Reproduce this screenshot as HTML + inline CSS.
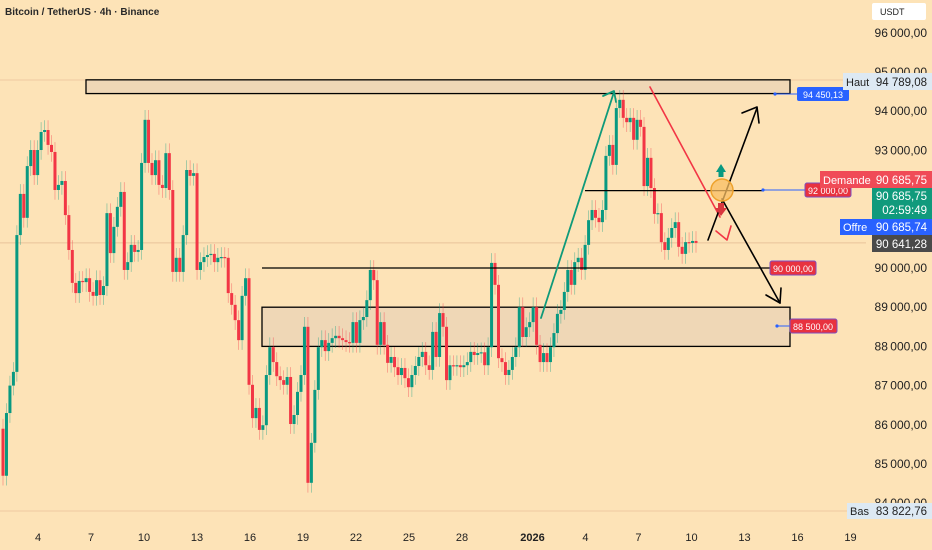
<!DOCTYPE html>
<html><head><meta charset="utf-8"><style>
html,body{margin:0;padding:0;background:#fde3b7;}
body{width:932px;height:550px;overflow:hidden;position:relative;font-family:"Liberation Sans",sans-serif;}
svg{position:absolute;left:0;top:0;}
</style></head><body>
<svg id="chart" width="932" height="550">
<rect x="0" y="0" width="932" height="550" fill="#fde3b7"/>
<text x="5" y="15" font-size="10" font-weight="bold" fill="#2a2a2a">Bitcoin / TetherUS · 4h · Binance</text>
<g><rect x="872" y="3" width="54" height="17" rx="2" fill="#ffffff"/><text x="880" y="15" font-size="9" fill="#222">USDT</text></g>
<g id="grid"></g>
<g id="overlay-back"></g>
<g id="candles"></g>
<g id="overlay"></g>
<g id="yaxis"></g>
<g id="xaxis"></g>
</svg>
<script>
// ---- data ----
const firstOpen = 85.9;
const closes = [84.7,86.3,87.0,87.35,90.84,91.89,91.28,92.60,93.01,92.37,93.01,93.47,93.52,93.14,92.96,91.99,92.12,92.22,91.35,90.46,89.62,89.36,89.67,89.64,89.74,89.39,89.29,89.69,89.31,89.54,91.40,90.38,91.05,91.56,91.94,89.95,90.15,90.59,90.41,90.46,92.68,93.78,92.68,92.37,92.75,92.12,92.04,92.93,91.99,89.90,90.26,89.90,90.84,92.50,92.35,92.42,89.95,90.15,90.28,90.33,90.36,90.15,90.26,90.28,90.26,89.36,89.06,88.67,88.16,89.29,89.74,87.02,86.17,86.43,85.87,85.99,87.27,87.98,87.60,87.24,87.14,87.02,87.22,86.02,86.25,86.84,87.27,88.50,84.52,85.54,86.89,87.98,88.16,87.88,88.09,88.21,88.27,88.21,88.16,88.11,88.09,88.62,88.09,88.67,88.75,89.18,89.95,89.69,88.04,88.62,88.04,87.58,87.73,87.47,87.27,87.45,87.19,86.96,87.27,87.50,87.73,87.86,87.52,87.40,88.37,87.73,88.85,88.50,87.14,87.52,87.50,87.52,87.47,87.52,87.60,87.86,87.78,87.83,87.85,87.52,87.98,90.13,89.57,87.70,87.60,87.27,87.40,87.73,87.98,89.00,88.24,88.49,88.62,89.00,88.04,87.60,87.83,87.60,87.98,88.34,88.83,88.93,89.39,89.95,89.57,90.15,90.26,89.95,90.59,91.22,91.48,91.28,91.17,91.48,92.86,93.14,92.63,94.08,94.29,93.83,93.72,93.83,93.27,93.78,93.60,92.09,92.81,92.04,91.38,91.40,90.66,90.46,90.77,91.02,91.17,90.54,90.36,90.66,90.64,90.69,90.64];
const priceTicks = [96,95,94,93,92,91,90,89,88,87,86,85,84];
const dateLabels = ["4","7","10","13","16","19","22","25","28","2026","4","7","10","13","16","19"];
const dateSlots = [0,1,2,3,4,5,6,7,8,9.33,10.33,11.33,12.33,13.33,14.33,15.33];
const levels = [92.0,90.0];
const zoneTop = [94.8,94.45];
const zoneBottom = [89.0,88.0];

// ---- axes ----
const NS="http://www.w3.org/2000/svg";
function yOf(p){return 268-(p-90)*39.2;}
const x0=3, x1=696;
function xOf(i){return x0+i*(x1-x0)/(closes.length-1);}
function xDate(s){return 38+s*53;}
function mk(tag,attrs,parent){const e=document.createElementNS(NS,tag);for(const k in attrs)e.setAttribute(k,attrs[k]);parent.appendChild(e);return e;}
function fmt(p){const v=(p*1000).toFixed(2).split('.');const i=v[0];return i.slice(0,i.length-3)+'\u2009'+i.slice(-3)+','+v[1];}

const grid=document.getElementById('grid');
const ya=document.getElementById('yaxis');
priceTicks.forEach(p=>{
  const t=mk('text',{x:927,y:yOf(p)+4,'font-size':12,'text-anchor':'end',fill:'#222'},ya);
  t.textContent=fmt(p);
  
  
});
const xa=document.getElementById('xaxis');
dateLabels.forEach((d,i)=>{
  const t=mk('text',{x:xDate(dateSlots[i]),y:541,'font-size':11,'text-anchor':'middle',fill:'#222','font-weight':d==='2026'?'bold':'normal'},xa);
  t.textContent=d;
  
  
});
const hl=mk('line',{x1:0,x2:932,y1:80,y2:80,stroke:'#efc9a0','stroke-width':1},grid);


const cl=mk('line',{x1:0,x2:866,y1:yOf(closes[closes.length-1]),y2:yOf(closes[closes.length-1]),stroke:'#e8c39a','stroke-width':1},grid);


const bl=mk('line',{x1:0,x2:932,y1:511,y2:511,stroke:'#efc9a0','stroke-width':1},grid);



const ob=document.getElementById('overlay-back');
const z1=mk('rect',{x:86,y:yOf(zoneTop[0]),width:704,height:yOf(zoneTop[1])-yOf(zoneTop[0]),fill:'#efd7b6',stroke:'#000','stroke-width':1.3},ob);


const z2=mk('rect',{x:262,y:yOf(zoneBottom[0]),width:528,height:yOf(zoneBottom[1])-yOf(zoneBottom[0]),fill:'#efd7b6',stroke:'#000','stroke-width':1.3},ob);



const cg=document.getElementById('candles');
let prev=firstOpen;
closes.forEach((c,i)=>{
  const o=prev; prev=c;
  const up=c>=o; const col=up?'#089981':'#f23645';
  const x=xOf(i);
  const hi=Math.max(o,c)+0.25, lo=Math.min(o,c)-0.25;
  const w=mk('line',{x1:x,x2:x,y1:yOf(hi),y2:yOf(lo),stroke:col,'stroke-width':0.7,opacity:0.5},cg);
  
  
  const top=yOf(Math.max(o,c)), h=Math.max(1.2,yOf(Math.min(o,c))-top);
  const b=mk('rect',{x:x-1.5,y:top,width:3,height:h,fill:col},cg);
  
  
});

const ov=document.getElementById('overlay');
const l1=mk('line',{x1:585,x2:763,y1:yOf(levels[0])+1,y2:yOf(levels[0])+1,stroke:'#000','stroke-width':1.3},ov);


const l2=mk('line',{x1:262,x2:770,y1:yOf(levels[1]),y2:yOf(levels[1]),stroke:'#000','stroke-width':1.3},ov);


</script>
<svg width="932" height="550" style="pointer-events:none">
 <g fill="none" stroke-linecap="round" stroke-linejoin="round">
  <polyline points="541,318 614,92" stroke="#0f9a7a" stroke-width="1.8"/>
  <polyline points="603,96 614,91 616,102" stroke="#0f9a7a" stroke-width="1.8"/>
  <polyline points="650,87 720,217" stroke="#f23645" stroke-width="1.6"/>
  <polyline points="716,231 727,240 731,226" stroke="#f23645" stroke-width="1.6"/>
  <polyline points="708,240 757,108" stroke="#000" stroke-width="1.6"/>
  <polyline points="742,113 757,107 759,123" stroke="#000" stroke-width="1.6"/>
  <polyline points="722,199 780,303" stroke="#000" stroke-width="1.6"/>
  <polyline points="766,295 780,303 781,288" stroke="#000" stroke-width="1.6"/>
 </g>
 <circle cx="722" cy="190" r="11" fill="#f8bd62" fill-opacity="0.75" stroke="#eea22c" stroke-width="1.5"/>
 <path d="M716,172 L721,164 L726,172 L723.5,172 L723.5,177 L718.5,177 L718.5,172 Z" fill="#089981"/>
 <path d="M718,203 L724,203 L724,208 L727,208 L721,216 L715,208 L718,208 Z" fill="#d9363e"/>
 <line x1="775" y1="94" x2="797" y2="94" stroke="#2962ff" stroke-width="1"/><circle cx="775" cy="94" r="1.6" fill="#2962ff"/>
 <g><rect x="797" y="87" width="52" height="14" rx="2" fill="#2962ff"/><text x="823" y="98" font-size="9" fill="#fff" text-anchor="middle">94 450,13</text></g>
 <line x1="763" y1="190" x2="805" y2="190" stroke="#2962ff" stroke-width="1"/><circle cx="763" cy="190" r="1.6" fill="#2962ff"/>
 <g><rect x="805" y="183" width="46" height="14" rx="2" fill="#e8323f" stroke="#7b4fc0" stroke-width="1"/><text x="828" y="194" font-size="9" fill="#fff" text-anchor="middle">92 000,00</text></g>
 <g><rect x="770" y="261" width="46" height="14" rx="2" fill="#e8323f" stroke="#7b4fc0" stroke-width="1"/><text x="793" y="272" font-size="9" fill="#fff" text-anchor="middle">90 000,00</text></g>
 <line x1="777" y1="326" x2="790" y2="326" stroke="#2962ff" stroke-width="1"/><circle cx="777" cy="326" r="1.6" fill="#2962ff"/>
 <g><rect x="790" y="319" width="47" height="14" rx="2" fill="#e8323f" stroke="#7b4fc0" stroke-width="1"/><text x="813" y="330" font-size="9" fill="#fff" text-anchor="middle">88 500,00</text></g>
 <g><rect x="843" y="73" width="89" height="17" fill="#dde9f3"/><text x="846" y="86" font-size="11" fill="#222">Haut</text><text x="927" y="86" font-size="11.5" fill="#222" text-anchor="end">94 789,08</text></g>
 <g><rect x="820" y="171" width="52" height="17" fill="#f04b57"/><text x="823" y="184" font-size="11" fill="#fff">Demande</text><rect x="872" y="171" width="60" height="17" fill="#f04b57"/><text x="927" y="184" font-size="11.5" fill="#fff" text-anchor="end">90 685,75</text></g>
 <g><rect x="872" y="188" width="60" height="31" fill="#109a7c"/><text x="927" y="200" font-size="11.5" fill="#fff" text-anchor="end">90 685,75</text><text x="927" y="214" font-size="11.5" fill="#fff" text-anchor="end">02:59:49</text></g>
 <g><rect x="840" y="219" width="32" height="16" fill="#2962ff"/><text x="843" y="231" font-size="11" fill="#fff">Offre</text><rect x="872" y="219" width="60" height="16" fill="#2962ff"/><text x="927" y="231" font-size="11.5" fill="#fff" text-anchor="end">90 685,74</text></g>
 <g><rect x="872" y="235" width="60" height="17" fill="#4a4a4a"/><text x="927" y="248" font-size="11.5" fill="#fff" text-anchor="end">90 641,28</text></g>
 <g><rect x="847" y="503" width="85" height="16" fill="#dde9f3"/><text x="850" y="515" font-size="11" fill="#222">Bas</text><text x="927" y="515" font-size="11.5" fill="#222" text-anchor="end">83 822,76</text></g>
</svg>
</body></html>
